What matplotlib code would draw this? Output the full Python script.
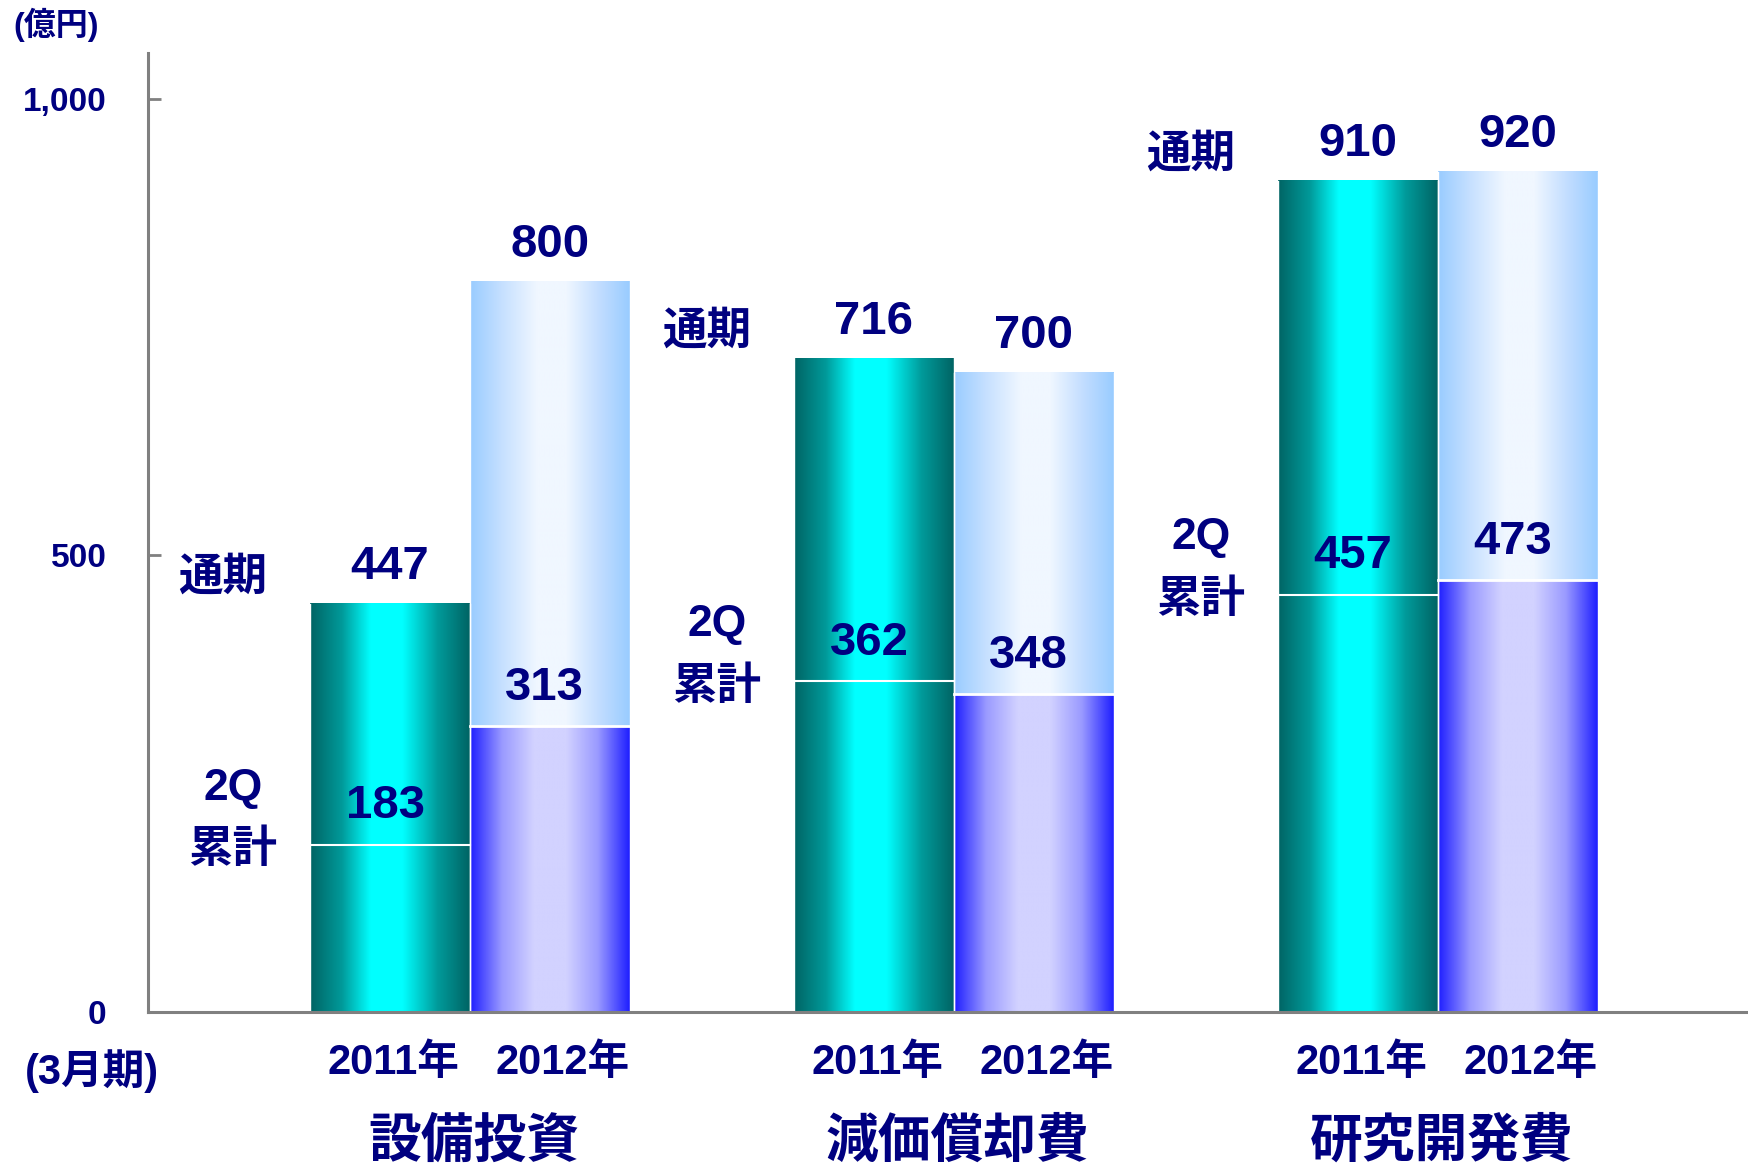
import numpy as np
import matplotlib
matplotlib.use("Agg")
import matplotlib.pyplot as plt
from matplotlib.colors import LinearSegmentedColormap

# ---- data ----
categories = ['設備投資', '減価償却費', '研究開発費']
years = ['2011年', '2012年']
full_2011 = [447, 716, 910]
q2_2011 = [183, 362, 457]
full_2012 = [800, 700, 920]
q2_2012 = [313, 348, 473]
ytick_vals = [0, 500, 1000]
ytick_labels = ['0', '500', '1,000']
unit_label = '(億円)'
period_label = '(3月期)'
full_label = '通期'
q2_label_top = '2Q'
q2_label_bot = '累計'

FONT = ['Liberation Sans', 'Noto Sans CJK JP']
NAVY = '#000080'
plt.rcParams['font.family'] = FONT
plt.rcParams['font.weight'] = 'bold'

teal = LinearSegmentedColormap.from_list('teal', [
    (0.0, '#006464'), (0.2, '#009a9a'), (0.38, '#00ffff'), (0.58, '#00ffff'),
    (0.8, '#009a9a'), (1.0, '#006464')])
blue = LinearSegmentedColormap.from_list('blue', [
    (0.0, '#1e1eff'), (0.2, '#9a9aff'), (0.4, '#d2d2ff'), (0.6, '#d2d2ff'),
    (0.8, '#9a9aff'), (1.0, '#1e1eff')])
light = LinearSegmentedColormap.from_list('light', [
    (0.0, '#99ccff'), (0.2, '#c6e0ff'), (0.42, '#f0f7ff'), (0.6, '#f0f7ff'),
    (0.82, '#c0dcff'), (1.0, '#99ccff')])

def grad(cmap):
    return cmap(np.linspace(0, 1, 256))[None, :, :]

fig = plt.figure(figsize=(17.49, 11.65), dpi=100)
ax = fig.add_axes([148 / 1749, 153 / 1165, 1601 / 1749, 959 / 1165])

w = 0.33
x = np.arange(len(categories))

def seg(x0, x1, y0, y1, cmap):
    ax.imshow(grad(cmap), extent=(x0, x1, y0, y1), aspect='auto',
              interpolation='bilinear', zorder=2)
    ax.plot([x0, x0], [y0, y1], color='white', lw=1.0, zorder=3)
    ax.plot([x1, x1], [y0, y1], color='white', lw=1.0, zorder=3)

for i in range(len(categories)):
    # 2011 bar
    a0, a1 = x[i] - w, x[i]
    seg(a0, a1, 0, full_2011[i], teal)
    ax.plot([a0, a1], [q2_2011[i], q2_2011[i]], color='white', lw=1.5, zorder=4)
    # 2012 bar
    b0, b1 = x[i], x[i] + w
    seg(b0, b1, 0, q2_2012[i], blue)
    seg(b0, b1, q2_2012[i], full_2012[i], light)
    ax.plot([b0, b1], [q2_2012[i], q2_2012[i]], color='white', lw=2.0, zorder=4)

    kw = dict(ha='center', va='center', color=NAVY, fontweight='bold', zorder=5)
    ax.text(x[i] - w / 2, full_2011[i] + 40, f'{full_2011[i]}', fontsize=34, **kw)
    ax.text(x[i] + w / 2, full_2012[i] + 40, f'{full_2012[i]}', fontsize=34, **kw)
    ax.text(x[i] - w / 2 - 0.01, q2_2011[i] + 42, f'{q2_2011[i]}', fontsize=34, **kw)
    ax.text(x[i] + w / 2 - 0.01, q2_2012[i] + 42, f'{q2_2012[i]}', fontsize=34, **kw)

    # side annotations
    ax.text(x[i] - 0.51, full_2011[i] + 29, full_label, fontsize=32, **kw)
    ax.text(x[i] - 0.49, q2_2011[i] + 62, q2_label_top, fontsize=32, **kw)
    ax.text(x[i] - 0.49, q2_2011[i] - 6, q2_label_bot, fontsize=32, **kw)

    # x labels
    ax.text(x[i] - w / 2 + 0.008, -56, years[0], fontsize=30, clip_on=False, **kw)
    ax.text(x[i] + w / 2 + 0.027, -56, years[1], fontsize=30, clip_on=False, **kw)
    ax.text(x[i] + 0.008, -143, categories[i], fontsize=38, clip_on=False, **kw)

ax.set_xlim(-0.665, 2.643)
ax.set_ylim(0, 1050)
ax.set_xticks([])
ax.set_yticks(ytick_vals)
ax.set_yticklabels(ytick_labels, fontsize=24, color=NAVY, fontweight='bold')
ax.tick_params(axis='y', direction='in', length=9.5, width=2, color='#808080', pad=30)
for s in ['top', 'right']:
    ax.spines[s].set_visible(False)
for s in ['left', 'bottom']:
    ax.spines[s].set_color('#808080')
    ax.spines[s].set_linewidth(2.2)
    ax.spines[s].set_zorder(6)

fig.text(56 / 1749, 1 - 25 / 1165, unit_label, fontsize=23, color=NAVY,
         fontweight='bold', ha='center', va='center')
fig.text(92 / 1749, 1 - 1071 / 1165, period_label, fontsize=30, color=NAVY,
         fontweight='bold', ha='center', va='center')

fig.savefig('out.png', dpi=100)
